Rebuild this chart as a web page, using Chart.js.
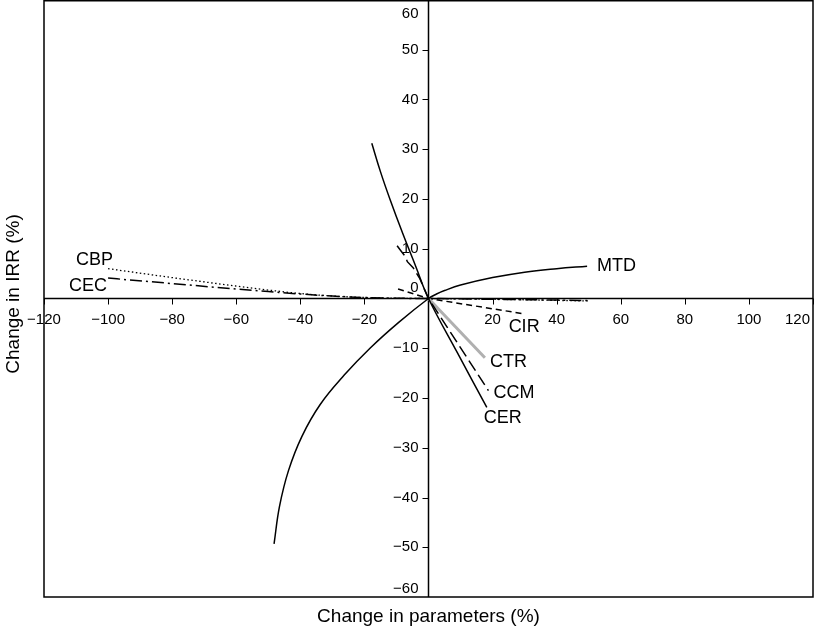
<!DOCTYPE html>
<html><head><meta charset="utf-8">
<script src="https://cdn.jsdelivr.net/npm/chart.js@4.4.1/dist/chart.umd.min.js"></script>
<style>html,body{margin:0;padding:0;background:#fff}#wrap{width:818px;height:634px}</style>
</head><body><div id="wrap"><canvas id="c" width="818" height="634"></canvas></div>
<script>
// ---- data ----
const xTicks = [-120,-100,-80,-60,-40,-20,20,40,60,80,100,120];
const yTicks = [-60,-50,-40,-30,-20,-10,0,10,20,30,40,50,60];

const mtdX = [-48.2,-46.5,-43.7,-39.5,-33.8,-26.3,-18.1,-9.3,0,2.5,5,10,20,30,40,49.5];
const mtdY = [-49.3,-41.8,-34.6,-27.7,-21.3,-15.4,-9.9,-4.8,0,0.9,1.6,2.7,4.2,5.3,6.0,6.5];

const cerX = [-17.7,-15,-12,-8,-4,0,9,18.2];
const cerY = [31.2,25.5,19.9,13.0,6.5,0,-10.9,-21.9];

const ccmX = [-9.8,-8.4,-7.2,-6.6,-4.8,-2.7,0,18.7];
const ccmY = [10.6,9.4,8.4,7.4,6.2,4.0,0,-18.5];

const ctrX = [0,17.6];
const ctrY = [0,-11.9];

const cirX = [-9.5,0,30];
const cirY = [1.9,0,-3.1];

const cbpX = [-100,-80,-60,-50,-40,-30,-20,-10,0,25,50];
const cbpY = [6.0,4.2,2.5,1.7,1.0,0.5,0.2,0.05,0,-0.2,-0.5];

const cecX = [-100,-80,-60,-50,-40,-30,-20,-10,0,25,50];
const cecY = [4.1,3.0,1.9,1.4,0.9,0.5,0.2,0.05,0,-0.2,-0.4];

const seriesNames = ['MTD','CER','CCM','CTR','CIR','CBP','CEC'];

const pts = (xs, ys) => xs.map((x, i) => ({x, y: ys[i]}));
const FONT = "Arial, 'Liberation Sans', sans-serif";
const fmt = v => String(v).replace('-', '\u2212');

const datasets = [
  {label:'MTD', data:pts(mtdX,mtdY), borderColor:'#000', borderWidth:1.5, tension:0.4},
  {label:'CER', data:pts(cerX,cerY), borderColor:'#000', borderWidth:1.5, tension:0.4},
  {label:'CCM', data:pts(ccmX,ccmY), borderColor:'#000', borderWidth:1.5, borderDash:[12,5]},
  {label:'CTR', data:pts(ctrX,ctrY), borderColor:'#b0b0b0', borderWidth:3},
  {label:'CIR', data:pts(cirX,cirY), borderColor:'#000', borderWidth:1.5, borderDash:[6,4]},
  {label:'CBP', data:pts(cbpX,cbpY), borderColor:'#000', borderWidth:1.3, borderDash:[1.5,2.5], cubicInterpolationMode:'monotone'},
  {label:'CEC', data:pts(cecX,cecY), borderColor:'#000', borderWidth:1.5, borderDash:[12,4,2,4], cubicInterpolationMode:'monotone'}
].map(d => Object.assign({showLine:true, pointRadius:0, fill:false}, d));

// label placement: which point to anchor (first/last), pixel offset, alignment
const labelPlace = {
  MTD:{at:'last', dx:10, dy:0, align:'left'},
  CBP:{at:'first', dx:5, dy:-9, align:'right'},
  CEC:{at:'first', dx:-1, dy:8, align:'right'},
  CIR:{at:'last', dx:-16, dy:13, align:'left'},
  CTR:{at:'last', dx:5, dy:4, align:'left'},
  CCM:{at:'last', dx:5, dy:2, align:'left'},
  CER:{at:'last', dx:-3, dy:11, align:'left'}
};

const axesPlugin = {
  id:'axesPlugin',
  beforeDatasetsDraw(chart){
    const {ctx, chartArea:a, scales:{x, y}} = chart;
    const x0 = x.getPixelForValue(0), y0 = y.getPixelForValue(0);
    ctx.save();
    // frame
    ctx.strokeStyle = '#000'; ctx.lineWidth = 1.5;
    ctx.strokeRect(a.left, a.top + 0.75, a.right - a.left, a.bottom - a.top - 0.75);
    // axes
    ctx.beginPath();
    ctx.moveTo(a.left, y0); ctx.lineTo(a.right, y0);
    ctx.moveTo(x0, a.top); ctx.lineTo(x0, a.bottom);
    ctx.stroke();
    // ticks
    ctx.lineWidth = 1;
    ctx.beginPath();
    xTicks.forEach(v => { const px = Math.round(x.getPixelForValue(v)) + 0.5; ctx.moveTo(px, y0); ctx.lineTo(px, y0 + 6); });
    yTicks.forEach(v => { if (Math.abs(v) === 60 || v === 0) return; const py = Math.round(y.getPixelForValue(v)) + 0.5; ctx.moveTo(x0, py); ctx.lineTo(x0 - 6, py); });
    ctx.stroke();
    // tick labels
    ctx.fillStyle = '#000';
    ctx.font = '15px ' + FONT;
    ctx.textBaseline = 'middle';
    ctx.textAlign = 'center';
    xTicks.forEach(v => {
      let px = x.getPixelForValue(v);
      const t = fmt(v);
      const w = ctx.measureText(t).width;
      if (px + w / 2 > chart.width - 8) px = chart.width - 8 - w / 2;
      ctx.fillText(t, px, y0 + 21);
    });
    ctx.textAlign = 'right';
    yTicks.forEach(v => {
      let py = y.getPixelForValue(v);
      if (v === 60) py = a.top + 14;
      if (v === -60) py = a.bottom - 8;
      if (v === 0) py -= 11;
      ctx.fillText(fmt(v), x0 - 10, py);
    });
    // axis titles
    ctx.font = '19px ' + FONT;
    ctx.textAlign = 'center';
    ctx.fillText('Change in parameters (%)', (a.left + a.right) / 2, 617);
    ctx.save();
    ctx.translate(14, 294);
    ctx.rotate(-Math.PI / 2);
    ctx.fillText('Change in IRR (%)', 0, 0);
    ctx.restore();
    ctx.restore();
  },
  afterDatasetsDraw(chart){
    const {ctx, scales:{x, y}} = chart;
    ctx.save();
    ctx.fillStyle = '#000';
    ctx.font = '18px ' + FONT;
    ctx.textBaseline = 'middle';
    chart.data.datasets.forEach(ds => {
      const p = labelPlace[ds.label];
      const pt = p.at === 'first' ? ds.data[0] : ds.data[ds.data.length - 1];
      ctx.textAlign = p.align;
      ctx.fillText(ds.label, x.getPixelForValue(pt.x) + p.dx, y.getPixelForValue(pt.y) + p.dy);
    });
    ctx.restore();
  }
};

new Chart(document.getElementById('c'), {
  type:'scatter',
  data:{datasets},
  options:{
    responsive:false,
    animation:false,
    layout:{padding:{left:44, right:5, top:0, bottom:37}},
    plugins:{legend:{display:false}, tooltip:{enabled:false}},
    scales:{
      x:{type:'linear', min:-120, max:120, display:false},
      y:{type:'linear', min:-60, max:60, display:false}
    }
  },
  plugins:[axesPlugin]
});
</script>
</body></html>
